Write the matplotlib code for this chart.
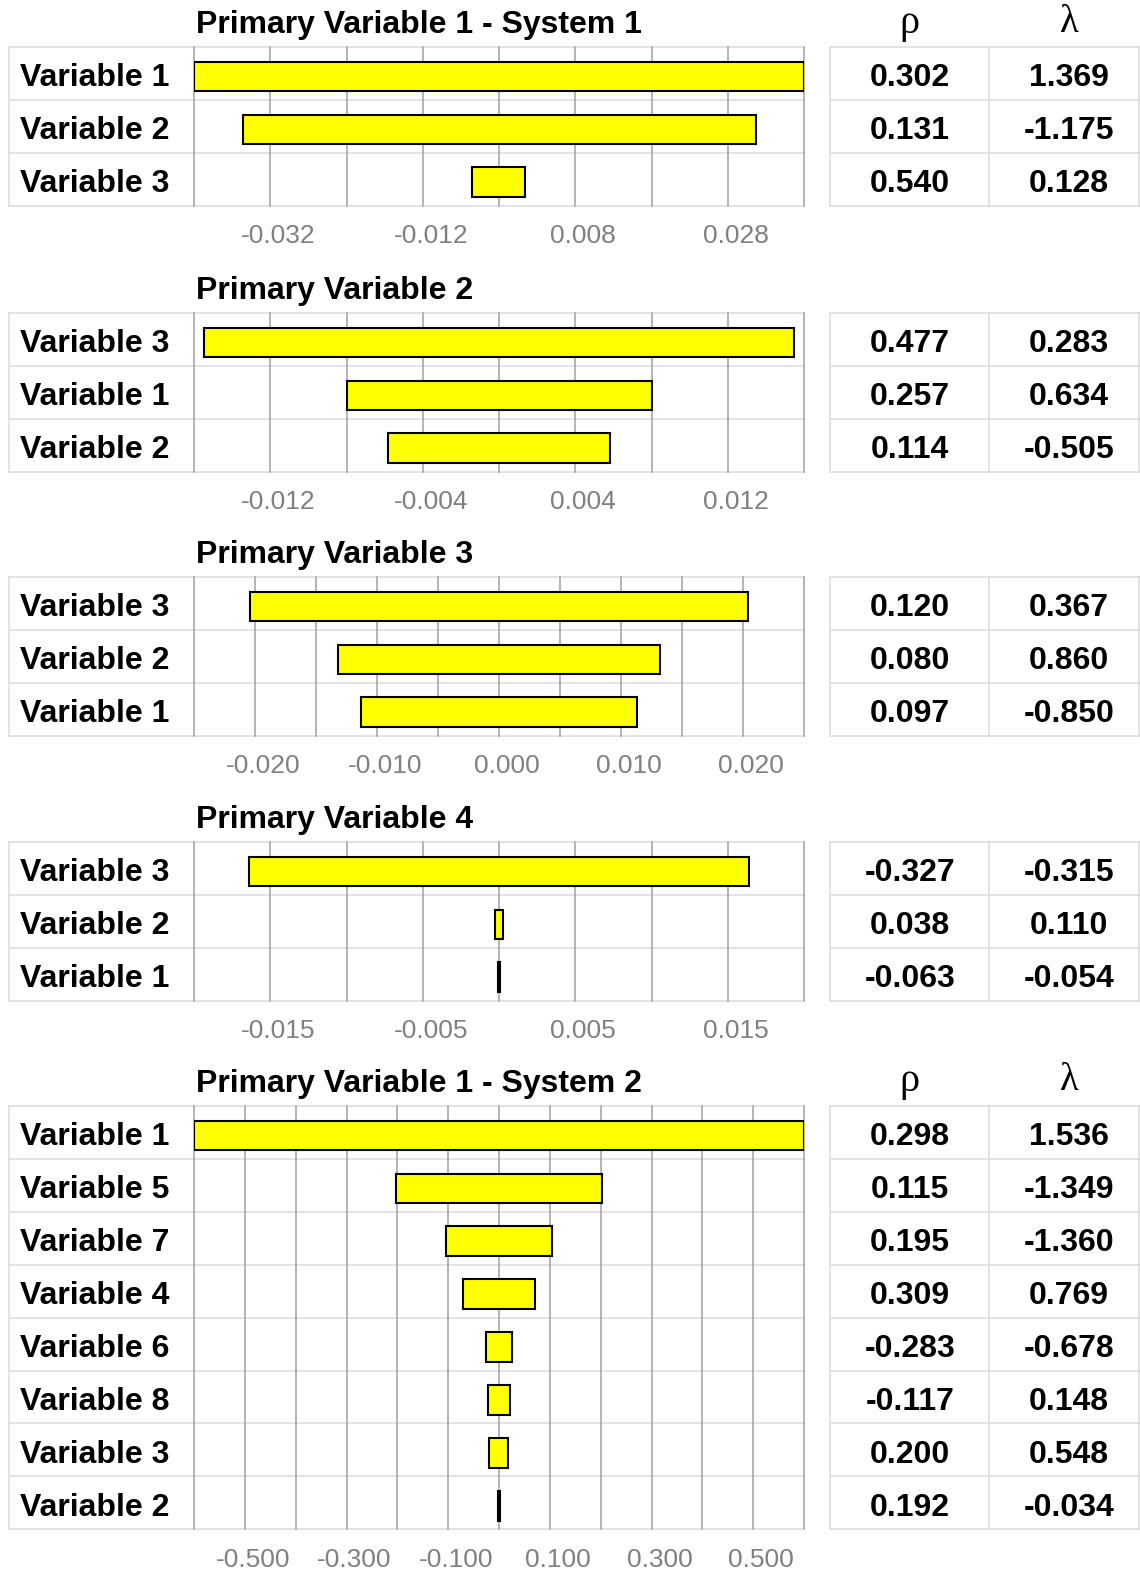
import numpy as np
import matplotlib.pyplot as plt
from matplotlib.transforms import ScaledTranslation

W, H = 1140, 1572

# Primary Variable 1 - System 1
p1_names = ['Variable 1', 'Variable 2', 'Variable 3']
p1_low = [-0.042, -0.0356, -0.0055]
p1_high = [0.038, 0.0317, 0.0014]
p1_rho = [0.302, 0.131, 0.540]
p1_lam = [1.369, -1.175, 0.128]
p1_major = [-0.032, -0.012, 0.008, 0.028]
p1_minor = [-0.042, -0.022, -0.002, 0.018, 0.038]

# Primary Variable 2
p2_names = ['Variable 3', 'Variable 1', 'Variable 2']
p2_low = [-0.0155, -0.0080, -0.0058]
p2_high = [0.0155, 0.0080, 0.0058]
p2_rho = [0.477, 0.257, 0.114]
p2_lam = [0.283, 0.634, -0.505]
p2_major = [-0.012, -0.004, 0.004, 0.012]
p2_minor = [-0.016, -0.008, 0.0, 0.008, 0.016]

# Primary Variable 3
p3_names = ['Variable 3', 'Variable 2', 'Variable 1']
p3_low = [-0.0204, -0.0132, -0.0113]
p3_high = [0.0204, 0.0132, 0.0113]
p3_rho = [0.120, 0.080, 0.097]
p3_lam = [0.367, 0.860, -0.850]
p3_major = [-0.020, -0.010, 0.0, 0.010, 0.020]
p3_minor = [-0.025, -0.015, -0.005, 0.005, 0.015, 0.025]

# Primary Variable 4
p4_names = ['Variable 3', 'Variable 2', 'Variable 1']
p4_low = [-0.0164, -0.00027, -0.00006]
p4_high = [0.0164, 0.00027, 0.00006]
p4_rho = [-0.327, 0.038, -0.063]
p4_lam = [-0.315, 0.110, -0.054]
p4_major = [-0.015, -0.005, 0.005, 0.015]
p4_minor = [-0.020, -0.010, 0.0, 0.010, 0.020]

# Primary Variable 1 - System 2
p5_names = ['Variable 1', 'Variable 5', 'Variable 7', 'Variable 4',
            'Variable 6', 'Variable 8', 'Variable 3', 'Variable 2']
p5_low = [-0.600, -0.202, -0.105, -0.070, -0.0265, -0.022, -0.019, -0.0015]
p5_high = [0.600, 0.202, 0.105, 0.070, 0.0262, 0.0215, 0.018, 0.0015]
p5_rho = [0.298, 0.115, 0.195, 0.309, -0.283, -0.117, 0.200, 0.192]
p5_lam = [1.536, -1.349, -1.360, 0.769, -0.678, 0.148, 0.548, -0.034]
p5_major = [-0.5, -0.3, -0.1, 0.1, 0.3, 0.5]
p5_minor = [-0.6, -0.4, -0.2, 0.0, 0.2, 0.4, 0.6]

ROW = 52.9
SANS = 'Liberation Sans'
SERIF = ['Liberation Serif', 'DejaVu Serif']
LIGHT = '#e0e0e0'
GRID = '#a0a0a0'
FS = 23

fig = plt.figure(figsize=(W / 100, H / 100), dpi=100)
fig.patch.set_facecolor('white')


def px_rect(x0, y0, x1, y1):
    return [x0 / W, 1 - y1 / H, (x1 - x0) / W, (y1 - y0) / H]


def row_lines(ax, n):
    for y in np.arange(-0.5, n, 1.0):
        ax.axhline(y, color=LIGHT, lw=1.3, zorder=0.5, clip_on=False)


def draw_panel(top, title, names, low, high, rho, lam, major, minor, header=False):
    n = len(names)
    bottom = top + n * ROW
    low = np.array(low)
    high = np.array(high)
    txt_dy = 5 / ROW   # nudge text so caps sit in the middle of the row
    bar_dy = 3 / ROW

    # row labels
    lax = fig.add_axes(px_rect(9, top, 194, bottom))
    lax.set_xlim(9, 194)
    lax.set_ylim(n - 0.5, -0.5)
    lax.axis('off')
    row_lines(lax, n)
    lax.axvline(9, color=LIGHT, lw=1.3, clip_on=False)
    for i, name in enumerate(names):
        lax.text(20, i + txt_dy, name, ha='left', va='center', fontsize=FS,
                 fontweight='bold', family=SANS)

    # tornado bars
    ax = fig.add_axes(px_rect(194, top, 804, bottom))
    ax.set_xlim(minor[0], minor[-1])
    ax.set_ylim(n - 0.5, -0.5)
    for s in ax.spines.values():
        s.set_visible(False)
    row_lines(ax, n)
    for v in list(major) + list(minor):
        ax.axvline(v, color=GRID, lw=1.1, zorder=1, clip_on=False)
    ax.barh(np.arange(n) + bar_dy, high - low, left=low, height=0.56,
            color='#ffff00', edgecolor='black', linewidth=1.5, zorder=3)
    ax.set_yticks([])
    ax.set_xticks(major)
    ax.set_xticklabels([f'{v:.3f}' for v in major], color='#808080',
                       fontsize=19, family=SANS)
    ax.tick_params(axis='x', length=0, pad=13.5)
    shift = ScaledTranslation(8 / 100, 0, fig.dpi_scale_trans)
    for lab in ax.get_xticklabels():
        lab.set_transform(lab.get_transform() + shift)
    fig.text(196 / W, 1 - (top - 22) / H, title, ha='left', va='center',
             fontsize=FS, fontweight='bold', family=SANS)

    # rho / lambda table
    tax = fig.add_axes(px_rect(830, top, 1140, bottom))
    tax.set_xlim(830, 1140)
    tax.set_ylim(n - 0.5, -0.5)
    tax.axis('off')
    row_lines(tax, n)
    for x in (830, 989, 1139):
        tax.axvline(x, color=LIGHT, lw=1.3, clip_on=False)
    for i in range(n):
        tax.text(910, i + txt_dy, f'{rho[i]:.3f}', ha='center', va='center',
                 fontsize=FS, fontweight='bold', family=SANS)
        tax.text(1069, i + txt_dy, f'{lam[i]:.3f}', ha='center', va='center',
                 fontsize=FS, fontweight='bold', family=SANS)
    if header:
        fig.text(909 / W, 1 - (top - 24) / H, 'ρ', ha='center', va='center',
                 fontsize=29, family=SERIF)
        fig.text(1069 / W, 1 - (top - 25) / H, 'λ', ha='center', va='center',
                 fontsize=28, family=SERIF)


draw_panel(47, 'Primary Variable 1 - System 1', p1_names, p1_low, p1_high,
           p1_rho, p1_lam, p1_major, p1_minor, header=True)
draw_panel(313, 'Primary Variable 2', p2_names, p2_low, p2_high,
           p2_rho, p2_lam, p2_major, p2_minor)
draw_panel(577, 'Primary Variable 3', p3_names, p3_low, p3_high,
           p3_rho, p3_lam, p3_major, p3_minor)
draw_panel(842, 'Primary Variable 4', p4_names, p4_low, p4_high,
           p4_rho, p4_lam, p4_major, p4_minor)
draw_panel(1106, 'Primary Variable 1 - System 2', p5_names, p5_low, p5_high,
           p5_rho, p5_lam, p5_major, p5_minor, header=True)

fig.savefig('out.png', dpi=100, facecolor='white')
